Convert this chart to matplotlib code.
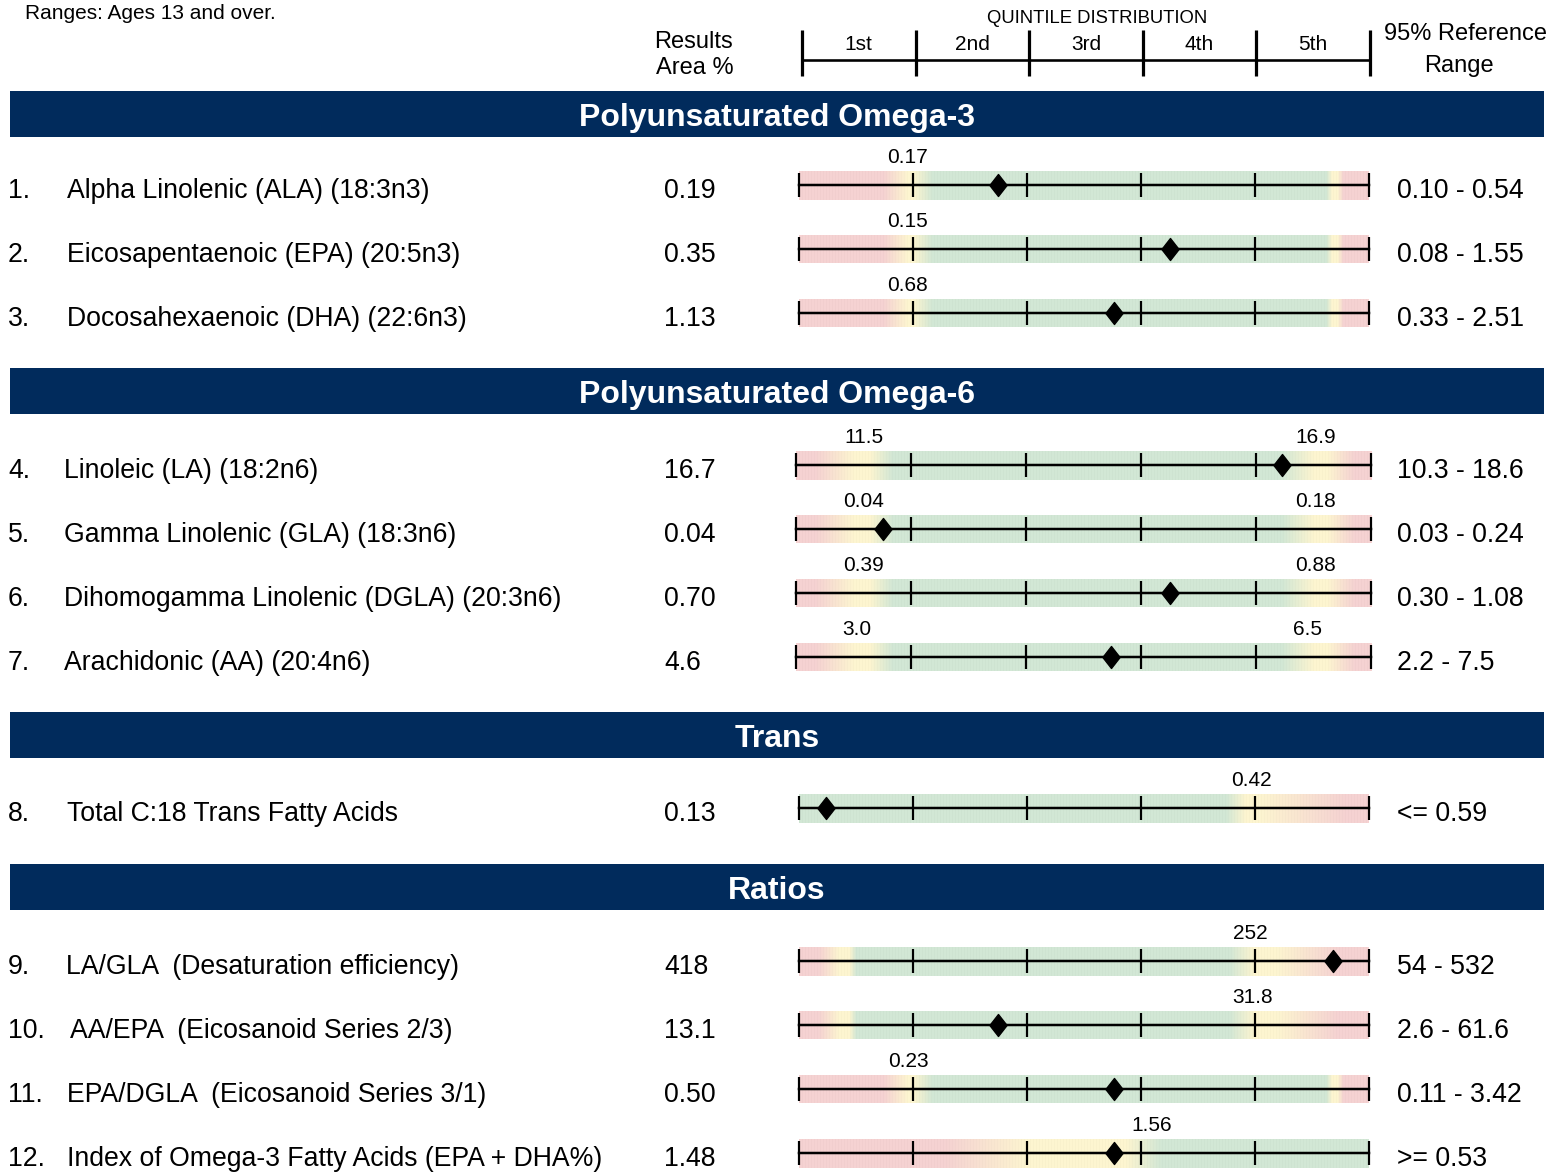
import numpy as np
import matplotlib
matplotlib.use("Agg")
import matplotlib.pyplot as plt
from matplotlib.path import Path
from matplotlib.patches import Rectangle

plt.rcParams['font.family'] = ['Liberation Sans', 'DejaVu Sans']

# ---------------- data ----------------
section_titles = ["Polyunsaturated Omega-3", "Polyunsaturated Omega-6", "Trans", "Ratios"]
section_rows = [[0, 1, 2], [3, 4, 5, 6], [7], [8, 9, 10, 11]]

row_numbers = ["1.", "2.", "3.", "4.", "5.", "6.", "7.", "8.", "9.", "10.", "11.", "12."]
row_labels = [
    "Alpha Linolenic (ALA) (18:3n3)",
    "Eicosapentaenoic (EPA) (20:5n3)",
    "Docosahexaenoic (DHA) (22:6n3)",
    "Linoleic (LA) (18:2n6)",
    "Gamma Linolenic (GLA) (18:3n6)",
    "Dihomogamma Linolenic (DGLA) (20:3n6)",
    "Arachidonic (AA) (20:4n6)",
    "Total C:18 Trans Fatty Acids",
    "LA/GLA  (Desaturation efficiency)",
    "AA/EPA  (Eicosanoid Series 2/3)",
    "EPA/DGLA  (Eicosanoid Series 3/1)",
    "Index of Omega-3 Fatty Acids (EPA + DHA%)",
]
results = ["0.19", "0.35", "1.13", "16.7", "0.04", "0.70", "4.6", "0.13", "418", "13.1", "0.50", "1.48"]
ref_ranges = ["0.10 - 0.54", "0.08 - 1.55", "0.33 - 2.51", "10.3 - 18.6", "0.03 - 0.24",
              "0.30 - 1.08", "2.2 - 7.5", "<= 0.59", "54 - 532", "2.6 - 61.6",
              "0.11 - 3.42", ">= 0.53"]
# position of the result on the quintile scale (0..5)
marker_pos = [1.745, 3.25, 2.76, 4.23, 0.76, 3.25, 2.74, 0.24, 4.68, 1.745, 2.76, 2.76]
# boundary labels above the bars
low_labels = ["0.17", "0.15", "0.68", "11.5", "0.04", "0.39", "3.0", None, None, None, "0.23", None]
low_label_pos = [0.956, 0.956, 0.956, 0.59, 0.59, 0.59, 0.53, None, None, None, 0.956, None]
high_labels = [None, None, None, "16.9", "0.18", "0.88", "6.5", "0.42", "252", "31.8", None, "1.56"]
high_label_pos = [None, None, None, 4.52, 4.52, 4.52, 4.45, 3.97, 3.96, 3.98, None, 3.09]

quintile_names = ["1st", "2nd", "3rd", "4th", "5th"]

# colour zones along the quintile scale
zone_omega3 = [(0, 'r'), (0.74, 'r'), (0.95, 'y'), (1.0, 'y'), (1.17, 'g'), (4.63, 'g'),
               (4.68, 'y'), (4.73, 'y'), (4.78, 'r'), (5, 'r')]
zone_omega6 = [(0, 'r'), (0.17, 'r'), (0.5, 'y'), (0.64, 'y'), (0.84, 'g'), (4.22, 'g'),
               (4.5, 'y'), (4.62, 'y'), (4.85, 'r'), (5, 'r')]
zone_trans = [(0, 'g'), (3.75, 'g'), (3.92, 'y'), (4.05, 'y'), (4.8, 'r'), (5, 'r')]
zone_ratio = [(0, 'r'), (0.17, 'r'), (0.35, 'y'), (0.44, 'y'), (0.5, 'g'), (3.78, 'g'),
              (4.0, 'y'), (4.2, 'y'), (4.73, 'r'), (5, 'r')]
zone_index = [(0, 'r'), (1.28, 'r'), (2.0, 'y'), (2.87, 'y'), (3.18, 'g'), (5, 'g')]
row_zones = [zone_omega3, zone_omega3, zone_omega3, zone_omega6, zone_omega6, zone_omega6,
             zone_omega6, zone_trans, zone_ratio, zone_ratio, zone_omega3, zone_index]

# ---------------- style / layout ----------------
zone_rgb = {'r': (245, 210, 210), 'y': (253, 245, 208), 'g': (210, 231, 213)}
NAVY = "#012b5c"
W, H = 1562, 1172
PT = 72 / 100.0

band_tops = [91, 368, 712, 864]
row_centers = [185, 249, 313, 465, 529, 593, 657, 808, 961, 1025, 1089, 1153]
label_x = [67, 67, 67, 64, 64, 64, 64, 67, 66, 70, 67, 67]

fig = plt.figure(figsize=(W / 100, H / 100), dpi=100)


def px_axes(x0, y0, x1, y1):
    return fig.add_axes([x0 / W, 1 - y1 / H, (x1 - x0) / W, (y1 - y0) / H])


bg = px_axes(0, 0, W, H)
bg.set_xlim(0, W)
bg.set_ylim(H, 0)
bg.axis('off')

# top header texts
bg.text(25, 19, "Ranges: Ages 13 and over.", fontsize=15, ha='left', va='baseline')
bg.text(1097, 23, "QUINTILE DISTRIBUTION", fontsize=13.3, ha='center', va='baseline')
bg.text(694, 48, "Results", fontsize=17, ha='center', va='baseline')
bg.text(695, 74, "Area %", fontsize=17, ha='center', va='baseline')
bg.text(1466, 40, "95% Reference", fontsize=17, ha='center', va='baseline')
bg.text(1459, 72, "Range", fontsize=17, ha='center', va='baseline')

# quintile header scale
hax = px_axes(802, 30, 1370, 76)
hax.set_xlim(0, 5)
hax.set_ylim(-1, 1)
hax.axis('off')
hax.plot([0, 5], [-0.3, -0.3], color='black', lw=2.6 * PT, clip_on=False, solid_capstyle='butt')
hax.vlines(np.arange(6), -1, 1, color='black', lw=3.2 * PT, clip_on=False)
for k, q in enumerate(quintile_names):
    hax.text(k + 0.5, 0.13, q, fontsize=15, ha='center', va='baseline')

# section bands
for title, top in zip(section_titles, band_tops):
    bg.add_patch(Rectangle((10, top), 1534, 46, facecolor=NAVY, edgecolor='none'))
    bg.text(777, top + 35, title, fontsize=23, fontweight='bold', color='white',
            ha='center', va='baseline')

# diamond marker
diamond = Path([(0, 1), (0.78, 0), (0, -1), (-0.78, 0), (0, 1)],
               [Path.MOVETO, Path.LINETO, Path.LINETO, Path.LINETO, Path.CLOSEPOLY])

for sec_rows in section_rows:
    for i in sec_rows:
        yc = row_centers[i]
        base = yc + 13
        bg.text(8, base, row_numbers[i], fontsize=19.2, ha='left', va='baseline')
        bg.text(label_x[i], base, row_labels[i], fontsize=19.2, ha='left', va='baseline')
        bg.text(664, base, results[i], fontsize=19.2, ha='left', va='baseline')
        bg.text(1397, base, ref_ranges[i], fontsize=19.2, ha='left', va='baseline')

        if i in (3, 4, 5, 6):
            x0, x1 = 796, 1371
        else:
            x0, x1 = 799, 1369
        ax = px_axes(x0, yc - 14.5, x1, yc + 14.5)
        ax.set_xlim(0, 5)
        ax.set_ylim(-1, 1)
        ax.axis('off')

        # gradient background
        ncols = x1 - x0
        xs = np.linspace(0, 5, ncols)
        stops = row_zones[i]
        sp = [s[0] for s in stops]
        img = np.zeros((1, ncols, 3))
        for c in range(3):
            img[0, :, c] = np.interp(xs, sp, [zone_rgb[s[1]][c] / 255.0 for s in stops])
        stripe = np.where(np.arange(ncols) % 3 == 0, 0.985, 1.0)
        img = img * stripe[None, :, None]
        ax.imshow(img, extent=(0, 5, -1, 1), aspect='auto', interpolation='nearest', zorder=0)

        ax.plot([0, 5], [0, 0], color='black', lw=2.5 * PT, zorder=2, clip_on=False)
        ax.vlines(np.arange(6), -0.86, 0.86, color='black', lw=2.2 * PT, zorder=2, clip_on=False)
        ax.plot([marker_pos[i]], [0], marker=diamond, markersize=22 * PT, color='black',
                zorder=3, clip_on=False)

        if low_labels[i] is not None:
            ax.text(low_label_pos[i], 1.5, low_labels[i], fontsize=15, ha='center',
                    va='baseline', clip_on=False)
        if high_labels[i] is not None:
            ax.text(high_label_pos[i], 1.5, high_labels[i], fontsize=15, ha='center',
                    va='baseline', clip_on=False)

fig.savefig("out.png", dpi=100)
